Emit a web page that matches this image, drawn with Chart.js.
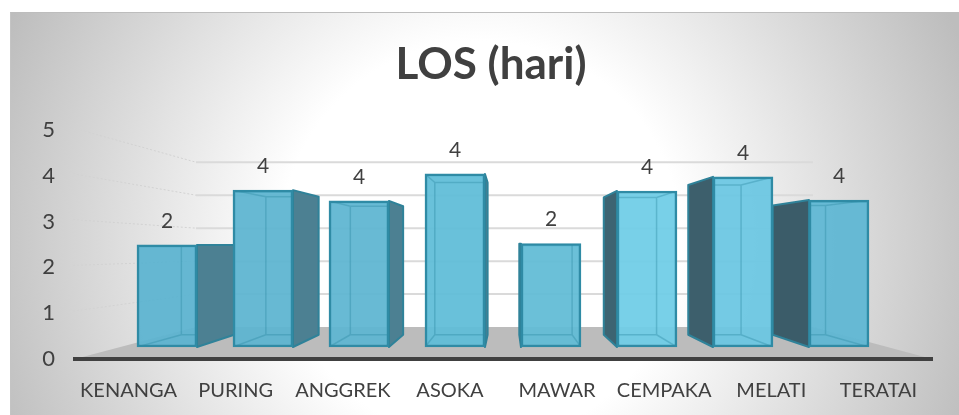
<!DOCTYPE html>
<html lang="id">
<head>
<meta charset="UTF-8">
<title>LOS (hari)</title>
<script src="https://cdn.jsdelivr.net/npm/chart.js"></script>
<style>
  html, body { margin: 0; background: #fff; overflow: hidden; }
  #frame {
    position: absolute; left: 10px; top: 12px; width: 949px; height: 403px;
    border-top: 1px solid #bdbdbd; border-left: 1px solid #c4c4c4; box-sizing: border-box;
    background: radial-gradient(circle at 470px 228px, #fff 0, #fff 200px, #bdbdbd 520px);
  }
  canvas { position: absolute; left: 0; top: 0; }
</style>
</head>
<body>
<div id="frame"></div>
<canvas id="grafik" width="959" height="415"></canvas>
<script>
const categories = ["KENANGA", "PURING", "ANGGREK", "ASOKA", "MAWAR", "CEMPAKA", "MELATI", "TERATAI"];
const losValues = [2.46, 3.78, 3.52, 4.17, 2.49, 3.76, 4.1, 3.54];
const yTicks = [0, 1, 2, 3, 4, 5];
const barColors = ["#5cb4d0", "#5db5d0", "#5fb6d1", "#60bdd8", "#62bcd6", "#70cde7", "#6bc7e2", "#5fb7d3"];
const sideColors = ["#4c8092", "#4c8092", "#4c8092", "#4c8092", "#3f6b7b", "#3d6472", "#3d5f6c", "#3b5c69"];

// titik hilang perspektif
const vanish = { x: 507, y: 245 };
const barDepth = 0.12;
const wallDepth = 0.28;

function project(x, y, k) {
  return { x: x + (vanish.x - x) * k, y: y + (vanish.y - y) * k };
}

function poly(ctx, pts) {
  ctx.beginPath();
  pts.forEach((p, i) => i ? ctx.lineTo(p.x, p.y) : ctx.moveTo(p.x, p.y));
  ctx.closePath();
}

// judul di gambar asli tidak persis di tengah kanvas
const titleShift = {
  id: "titleShift",
  afterLayout(chart) {
    chart.titleBlock.left += 25;
    chart.titleBlock.right += 25;
  }
};

// lantai dan dinding belakang, sebelum sumbu digambar
const room = {
  id: "room",
  beforeDraw(chart) {
    const { ctx, scales } = chart;
    const left = scales.x.left, right = scales.x.right;
    const zero = scales.y.getPixelForValue(0);
    const backL = project(left, zero, wallDepth), backR = project(right, zero, wallDepth);
    ctx.save();
    ctx.fillStyle = "#bcbcbc";
    poly(ctx, [{ x: left, y: zero }, backL, backR, { x: right, y: zero }]);
    ctx.fill();
    yTicks.slice(1).forEach(t => {
      const y = scales.y.getPixelForValue(t);
      const a = project(left, y, wallDepth), b = project(right, y, wallDepth);
      ctx.strokeStyle = "#dadada";
      ctx.lineWidth = 2;
      ctx.beginPath(); ctx.moveTo(a.x, a.y); ctx.lineTo(b.x, a.y); ctx.stroke();
      ctx.strokeStyle = "#d2d2d2";
      ctx.lineWidth = 1;
      ctx.setLineDash([2, 2]);
      ctx.beginPath(); ctx.moveTo(left - 2, y - 2); ctx.lineTo(a.x, a.y); ctx.stroke();
      ctx.setLineDash([]);
    });
    ctx.restore();
  }
};

function faces(bar) {
  const l = bar.x - bar.width / 2, r = bar.x + bar.width / 2;
  return {
    l, r, top: bar.y, bottom: bar.base,
    tl: project(l, bar.y, barDepth), tr: project(r, bar.y, barDepth),
    bl: project(l, bar.base, barDepth), br: project(r, bar.base, barDepth)
  };
}

// sisi samping di belakang batang, garis dalam dan label di depan
const box3d = {
  id: "box3d",
  beforeDatasetsDraw(chart) {
    const { ctx } = chart;
    ctx.save();
    ctx.lineJoin = "round";
    chart.getDatasetMeta(0).data.forEach((bar, i) => {
      const f = faces(bar);
      const x = bar.x < vanish.x ? f.r : f.l;
      const t = bar.x < vanish.x ? f.tr : f.tl;
      const b = bar.x < vanish.x ? f.br : f.bl;
      ctx.fillStyle = sideColors[i];
      ctx.strokeStyle = "#2f8299";
      ctx.lineWidth = 2;
      poly(ctx, [{ x, y: f.top }, t, b, { x, y: f.bottom }]);
      ctx.fill();
      ctx.stroke();
    });
    ctx.restore();
  },
  afterDatasetsDraw(chart) {
    const { ctx } = chart;
    chart.getDatasetMeta(0).data.forEach((bar, i) => {
      const f = faces(bar);
      ctx.save();
      ctx.beginPath();
      ctx.rect(f.l + 1, f.top + 1, f.r - f.l - 2, f.bottom - f.top - 2);
      ctx.clip();
      ctx.strokeStyle = "rgba(47,140,165,0.4)";
      ctx.lineWidth = 1.5;
      ctx.beginPath();
      ctx.moveTo(f.tl.x, f.tl.y); ctx.lineTo(f.tr.x, f.tr.y); ctx.lineTo(f.br.x, f.br.y);
      ctx.lineTo(f.bl.x, f.bl.y); ctx.closePath();
      ctx.moveTo(f.l, f.top); ctx.lineTo(f.tl.x, f.tl.y);
      ctx.moveTo(f.r, f.top); ctx.lineTo(f.tr.x, f.tr.y);
      ctx.moveTo(f.l, f.bottom); ctx.lineTo(f.bl.x, f.bl.y);
      ctx.moveTo(f.r, f.bottom); ctx.lineTo(f.br.x, f.br.y);
      ctx.stroke();
      ctx.restore();

      ctx.save();
      ctx.fillStyle = "#404040";
      ctx.font = "21px Lato";
      ctx.textAlign = "center";
      ctx.textBaseline = "middle";
      ctx.fillText(String(Math.round(losValues[i])), bar.x, bar.y - 24);
      ctx.restore();
    });
  }
};

new Chart(document.getElementById("grafik"), {
  type: "bar",
  data: {
    labels: categories,
    datasets: [{
      label: "LOS (hari)",
      data: losValues.map((v, i) => ({ x: i, y: v })),
      xAxisID: "xBar",
      yAxisID: "yBar",
      backgroundColor: barColors.map(c => c + "f0"),
      borderColor: "#2f8ba5",
      borderWidth: 2.5,
      borderSkipped: false,
      barThickness: 60
    }]
  },
  plugins: [titleShift, room, box3d],
  options: {
    responsive: false,
    animation: false,
    layout: { padding: { top: 38, right: 27, left: 0, bottom: 0 } },
    plugins: {
      legend: { display: false },
      tooltip: { enabled: false },
      title: {
        display: true,
        text: "LOS (hari)",
        color: "#404040",
        font: { family: "Lato", size: 44, weight: "bold", lineHeight: 1.2 },
        padding: { top: 0, bottom: 39.2 }
      }
    },
    scales: {
      x: {
        type: "category",
        position: "bottom",
        grid: { display: false },
        border: { color: "#404040", width: 4 },
        ticks: { color: "#404040", font: { family: "Lato", size: 20 }, padding: 12, maxRotation: 0, autoSkip: false },
        afterFit(s) { s.height = 56; }
      },
      y: {
        type: "linear",
        position: "left",
        min: 0,
        max: 5,
        afterBuildTicks(s) { s.ticks = yTicks.map(v => ({ value: v })); },
        grid: { display: false },
        border: { display: false },
        ticks: { color: "#404040", font: { family: "Lato", size: 22 }, padding: 12 },
        afterFit(s) { s.width = 75; }
      },
      // skala tersembunyi untuk batang: bidang batang lebih dalam dari bidang sumbu
      xBar: { type: "linear", display: false, offset: false, min: -0.958, max: 7.969, grid: { offset: false } },
      yBar: { type: "linear", display: false, min: -0.289, max: 5.229 }
    }
  }
});
</script>
</body>
</html>
